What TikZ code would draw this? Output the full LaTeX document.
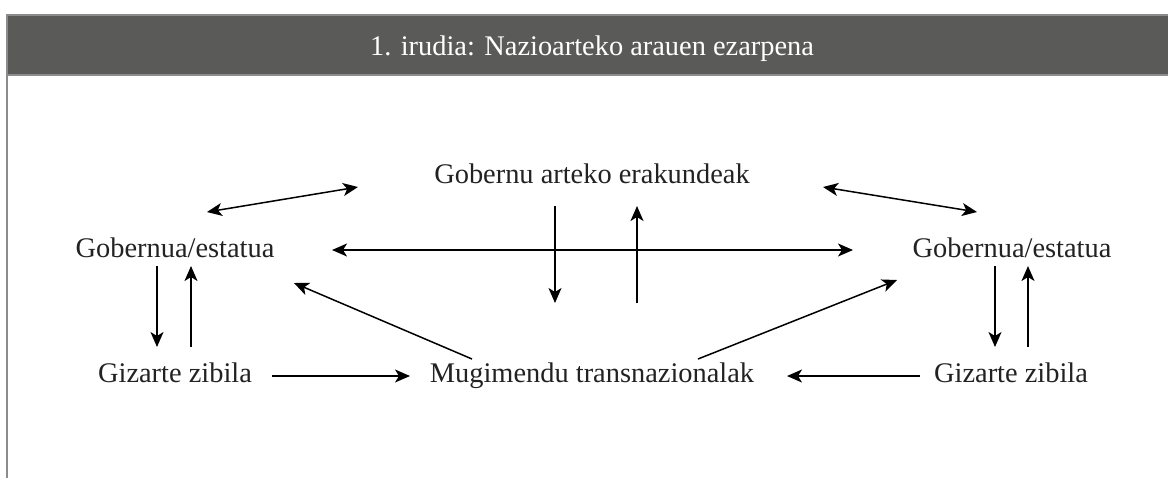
\documentclass[tikz,border=0pt]{standalone}
\usepackage{fontspec}
\setmainfont{Liberation Serif}
\usetikzlibrary{arrows.meta,calc}
\definecolor{goiburu}{HTML}{5A5A58}
\definecolor{ertza}{HTML}{8C8C8C}
\definecolor{testua}{HTML}{222222}

\begin{document}
\begin{tikzpicture}[x=0.5pt,y=-0.5pt,
		testu/.style={anchor=base,inner sep=0pt,text=testua,font=\fontsize{14.2}{17}\selectfont},
		gezi/.style={arrows={-Stealth[length=7.5pt,width=6.5pt,inset=2pt]},line width=0.75pt},
		gezibi/.style={arrows={Stealth[length=7.5pt,width=6.5pt,inset=2pt]-Stealth[length=7.5pt,width=6.5pt,inset=2pt]},line width=0.75pt}]
		\useasboundingbox (0,0) rectangle (1168,478);

		% goiburua
		\fill[goiburu] (7,15) rectangle (1180,75);
		\draw[ertza,line width=1pt] (1180,15) -- (7,15) -- (7,478);
		\draw[ertza,line width=1pt] (7,75) -- (1180,75);
		\node[testu,text=white] (izenburu)
			at (592,55) {1. irudia: Nazioarteko arauen ezarpena};

		\node[testu] (erakunde) at (592,183) {Gobernu arteko erakundeak};
		\node[testu] (gobernu1) at (175,257) {Gobernua/estatua};
		\node[testu] (gobernu2) at (1012,257) {Gobernua/estatua};
		\node[testu] (gizarte1) at (175,382) {Gizarte zibila};
		\node[testu] (mugimendu) at (592,382) {Mugimendu transnazionalak};
		\node[testu] (gizarte2) at (1011,382) {Gizarte zibila};

		\draw[gezibi] ($(gobernu1.base)+(32,-45)$) -- ($(erakunde.base)+(-234,4)$);
		\draw[gezibi] ($(erakunde.base)+(231,4)$) -- ($(gobernu2.base)+(-35,-45)$);
		\draw[gezibi] ($(gobernu1.base)+(157,-7)$) -- ($(gobernu2.base)+(-159,-7)$);

		\draw[gezi] ($(erakunde.base)+(-37,23)$) -- ($(mugimendu.base)+(-37,-79)$);
		\draw[gezi] ($(mugimendu.base)+(45,-79)$) -- ($(erakunde.base)+(45,23)$);

		\draw[gezi] ($(gobernu1.base)+(-18,9)$) -- ($(gizarte1.base)+(-18,-35)$);
		\draw[gezi] ($(gizarte1.base)+(16,-35)$) -- ($(gobernu1.base)+(16,9)$);
		\draw[gezi] ($(gobernu2.base)+(-17,9)$) -- ($(gizarte2.base)+(-16,-35)$);
		\draw[gezi] ($(gizarte2.base)+(17,-35)$) -- ($(gobernu2.base)+(16,9)$);

		\draw[gezi] ($(mugimendu.base)+(-120,-23)$) -- ($(gobernu1.base)+(119,26)$);
		\draw[gezi] ($(mugimendu.base)+(106,-23)$) -- ($(gobernu2.base)+(-115,23)$);
		\draw[gezi] ($(gizarte1.base)+(97,-6)$) -- ($(mugimendu.base)+(-182,-6)$);
		\draw[gezi] ($(gizarte2.base)+(-91,-6)$) -- ($(mugimendu.base)+(195,-6)$);
	\end{tikzpicture}
\end{document}
